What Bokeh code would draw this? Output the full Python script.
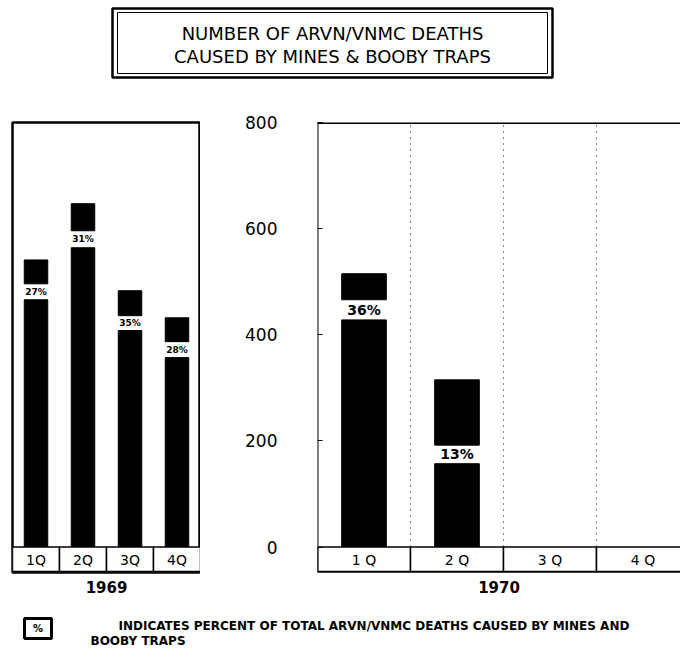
from bokeh.plotting import figure
from bokeh.models import Range1d, FixedTicker, Span
from bokeh.layouts import column, row
from bokeh.embed import file_html
from bokeh.resources import INLINE
from bokeh.core.properties import value

# ---- data ----
quarters_1969 = ["1Q", "2Q", "3Q", "4Q"]
total_1969 = [541, 647, 483, 432]
box_bottom_1969 = [496, 596, 436, 387]
lower_1969 = [466, 564, 408, 357]
pct_1969 = ["27%", "31%", "35%", "28%"]

quarters_1970 = ["1 Q", "2 Q", "3 Q", "4 Q"]
total_1970 = [515, 315]
box_bottom_1970 = [466, 192]
lower_1970 = [428, 157]
pct_1970 = ["36%", "13%"]

y_ticks = [0, 200, 400, 600, 800]

title_lines = ["NUMBER OF ARVN/VNMC DEATHS", "CAUSED BY MINES & BOOBY TRAPS"]
note_lines = ["INDICATES PERCENT OF TOTAL ARVN/VNMC DEATHS CAUSED BY MINES AND",
              "BOOBY TRAPS"]

FONT = "DejaVu Sans"
STRIP = 48  # strip depth in data units below zero
W = 680

yr = Range1d(-STRIP, 800)


def base_fig(width, height, xr, border_left, border_right):
    p = figure(width=width, height=height, x_range=xr, y_range=yr,
               output_backend="svg", toolbar_location=None,
               min_border_left=border_left, min_border_right=border_right,
               min_border_top=14, min_border_bottom=28)
    p.grid.visible = False
    p.background_fill_color = "white"
    p.border_fill_color = "white"
    return p


def draw_panel(p, cats, totals, box_bottoms, lowers, pcts, width, lab_size, cat_size, year):
    xs = [i + 0.5 for i in range(len(totals))]
    p.vbar(x=xs, top=lowers, bottom=0, width=width, color="black")
    p.vbar(x=xs, top=totals, bottom=box_bottoms, width=width, color="black")
    ymid = [(a + b) / 2 for a, b in zip(lowers, box_bottoms)]
    p.text(x=xs, y=ymid, text=pcts, text_align="center", text_baseline="middle",
           text_font=value(FONT), text_font_style="bold", text_font_size=lab_size)
    cx = [i + 0.5 for i in range(len(cats))]
    p.rect(x=cx, y=-STRIP / 2, width=1, height=STRIP, fill_color="white",
           line_color="black", line_width=1.5)
    p.text(x=cx, y=-STRIP / 2, text=cats, text_align="center", text_baseline="middle",
           text_font=value(FONT), text_font_size=cat_size)
    p.xaxis.axis_label = year
    p.xaxis.axis_label_text_font = FONT
    p.xaxis.axis_label_text_font_style = "bold"
    p.xaxis.axis_label_text_font_size = "15px"
    p.xaxis.axis_label_text_color = "black"
    p.xaxis.axis_label_standoff = 8
    p.xaxis.major_label_text_font_size = "0px"
    p.xaxis.major_tick_line_color = None
    p.xaxis.minor_tick_line_color = None
    p.xaxis.axis_line_color = None
    p.xaxis.ticker = FixedTicker(ticks=[])


# ---- 1969 panel ----
p69 = base_fig(200, 492, Range1d(0, 4), 12, 0)
p69.yaxis.visible = False
p69.outline_line_color = "black"
p69.outline_line_width = 2.5
draw_panel(p69, quarters_1969, total_1969, box_bottom_1969, lower_1969, pct_1969,
           0.5, "9px", "14px", "1969")
p69.add_layout(Span(location=-STRIP, dimension="width", line_color="black", line_width=3.5))

# ---- 1970 panel ----
p70 = base_fig(W - 200, 492, Range1d(0, (W - 317) / 93), 117, 0)
p70.outline_line_color = None
for loc in [1, 2, 3]:
    p70.segment(x0=[loc], y0=[0], x1=[loc], y1=[800], line_color="#888888",
                line_dash="2 4", line_width=1)
draw_panel(p70, quarters_1970, total_1970, box_bottom_1970, lower_1970, pct_1970,
           0.48, "14px", "14px", "1970")
p70.add_layout(Span(location=0, dimension="height", line_color="black", line_width=2))
p70.add_layout(Span(location=800, dimension="width", line_color="black", line_width=3))
p70.add_layout(Span(location=-STRIP, dimension="width", line_color="black", line_width=3.5))
ya = p70.yaxis[0]
ya.ticker = FixedTicker(ticks=y_ticks)
ya.axis_line_color = None
ya.major_tick_in = 5
ya.major_tick_out = 0
ya.major_tick_line_color = "black"
ya.minor_tick_line_color = None
ya.major_label_standoff = 40
ya.major_label_text_font = FONT
ya.major_label_text_font_size = "17px"
ya.major_label_text_color = "black"

# ---- title ----
pt = figure(width=W, height=108, x_range=Range1d(0, W), y_range=Range1d(108, 0),
            output_backend="svg", toolbar_location=None, min_border=0)
pt.axis.visible = False
pt.grid.visible = False
pt.outline_line_color = None
pt.quad(left=[112], right=[552], top=[8], bottom=[77], fill_color="white",
        line_color="black", line_width=2.5)
pt.quad(left=[117], right=[547], top=[12], bottom=[73], fill_color=None,
        line_color="black", line_width=1)
pt.text(x=[332, 332], y=[33, 56], text=title_lines, text_align="center",
        text_baseline="middle", text_font=value(FONT), text_font_size="18px")

# ---- note ----
pn = figure(width=W, height=50, x_range=Range1d(0, W), y_range=Range1d(650, 600),
            output_backend="svg", toolbar_location=None, min_border=0)
pn.axis.visible = False
pn.grid.visible = False
pn.outline_line_color = None
pn.quad(left=[24], right=[51], top=[618], bottom=[638], fill_color="white",
        line_color="black", line_width=3)
pn.text(x=[37.5], y=[628], text=["%"], text_align="center", text_baseline="middle",
        text_font=value(FONT), text_font_style="bold", text_font_size="10px")
pn.text(x=[118, 90], y=[625, 640], text=note_lines, text_align="left",
        text_baseline="middle", text_font=value(FONT), text_font_style="bold",
        text_font_size="12px")

layout = column(pt, row(p69, p70), pn)
open("out.html", "w").write(file_html(layout, INLINE))
